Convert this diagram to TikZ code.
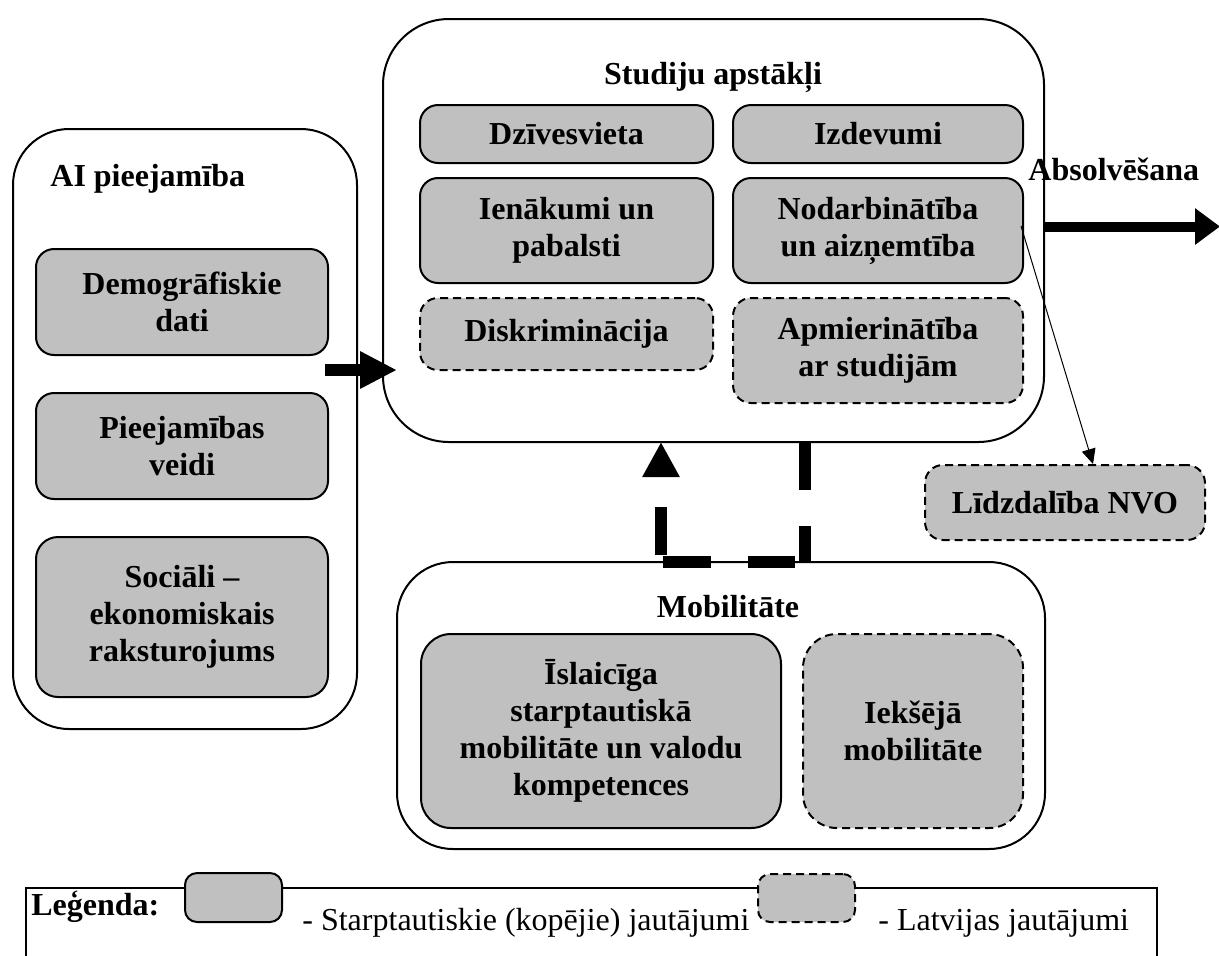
\documentclass[tikz,border=0pt]{standalone}
\usepackage{fontspec}
\setmainfont{Liberation Serif}
\usetikzlibrary{arrows.meta}
\definecolor{boxgray}{HTML}{C0C0C0}
\begin{document}
\begin{tikzpicture}[x=0.5pt,y=-0.5pt,
  every node/.style={font=\fontsize{16pt}{18.5pt}\selectfont},
  outerbox/.style={draw, line width=1pt, inner sep=0pt},
  gbox/.style={draw, fill=boxgray, line width=1pt, rounded corners=9pt, align=center, inner sep=0pt,
    font=\fontsize{16pt}{18.5pt}\selectfont\bfseries},
  dbox/.style={gbox, dash pattern=on 4pt off 2.5pt},
  title/.style={inner sep=0pt, font=\fontsize{16pt}{18.5pt}\selectfont\bfseries},
  legtext/.style={inner sep=0pt, font=\fontsize{16pt}{18.5pt}\selectfont},
  bigarrow/.style={line width=6pt, -{Triangle[length=18.5pt,width=17.5pt]}},
  outarrow/.style={line width=5pt, -{Triangle[length=12.5pt,width=17.5pt]}},
  thinarrow/.style={line width=0.5pt, -{Triangle[length=7.5pt,width=7pt]}},
  mobarrow/.style={line width=6pt, -{Triangle[length=17.5pt,width=17.5pt]},
    dash pattern=on 24pt off 18pt on 18pt off 5pt on 23.5pt off 18.5pt on 24pt off 4.5pt on 24pt off 60pt}
]
\useasboundingbox (0,0) rectangle (1219,955);

% ---------- AI pieejamiba ----------
\node[outerbox, rounded corners=28pt, minimum width=172pt, minimum height=300pt] (ai) at (185,429) {};
\node[title, anchor=base west] (aititle) at (50,186) {AI pieejamība};
\node[gbox, minimum width=146pt, minimum height=53pt] (demo) at (182,302) {Demogrāfiskie\\dati};
\node[gbox, minimum width=146pt, minimum height=53pt] (piee) at (182,446) {Pieejamības\\veidi};
\node[gbox, rounded corners=11pt, minimum width=146pt, minimum height=80pt] (soc) at (182,617) {Sociāli –\\ekonomiskais\\raksturojums};

% ---------- Studiju apstakli ----------
\node[outerbox, rounded corners=33pt, minimum width=330.5pt, minimum height=211.5pt] (stud) at (713.5,230.5) {};
\node[title, anchor=base] (studtitle) at (713,84) {Studiju apstākļi};
\node[gbox, minimum width=146.5pt, minimum height=29pt] (dz) at (566.5,134) {Dzīvesvieta};
\node[gbox, minimum width=145pt, minimum height=29pt] (iz) at (878,134) {Izdevumi};
\node[gbox, minimum width=146.5pt, minimum height=52.5pt] (ien) at (566.5,230.5) {Ienākumi un\\pabalsti};
\node[gbox, minimum width=145pt, minimum height=52.5pt] (nod) at (878,230.5) {Nodarbinātība\\un aizņemtība};
\node[dbox, minimum width=146.5pt, minimum height=36pt] (disk) at (566.5,334) {Diskriminācija};
\node[dbox, minimum width=145pt, minimum height=52.5pt] (apm) at (878,350.5) {Apmierinātība\\ar studijām};

% ---------- Lidzdaliba NVO ----------
\node[dbox, minimum width=140pt, minimum height=37.5pt] (nvo) at (1065,502.5) {Līdzdalība NVO};

% ---------- Mobilitate ----------
\node[outerbox, rounded corners=28pt, minimum width=324pt, minimum height=143.5pt] (mob) at (721,705.5) {};
\node[title, anchor=base] (mobtitle) at (728,617) {Mobilitāte};
\node[gbox, rounded corners=15pt, minimum width=180pt, minimum height=97pt] (isl) at (601,731) {Īslaicīga\\starptautiskā\\mobilitāte un valodu\\kompetences};
\node[dbox, rounded corners=17pt, minimum width=110pt, minimum height=97pt] (iek) at (913,731) {Iekšējā\\mobilitāte};

% ---------- Absolvesana ----------
\node[title, anchor=base west] (abs) at (1028,180) {Absolvēšana};

% ---------- connectors ----------
\coordinate (a1) at (325,370);
\coordinate (a2) at (397,370);
\draw[bigarrow] (a1) -- (a2);

\coordinate (b1) at (1045,226.5);
\coordinate (b2) at (1220,226.5);
\draw[outarrow] (b1) -- (b2);

\coordinate (t1) at (1021,226);
\coordinate (t2) at (1093,464);
\draw[thinarrow] (t1) -- (t2);

\coordinate (c1) at (805,442);
\coordinate (c2) at (805,562);
\coordinate (c3) at (661,562);
\coordinate (c4) at (661,442);
\draw[mobarrow] (c1) -- (c2) -- (c3) -- (c4);

% ---------- legend ----------
\node[draw, line width=1pt, inner sep=0pt, anchor=north west, minimum width=565.5pt, minimum height=60pt] (leg) at (25,887) {};
\node[title, anchor=base west] (legtitle) at (31,915) {Leģenda:};
\node[gbox, rounded corners=6pt, minimum width=48.5pt, minimum height=24.5pt] (legg) at (233.5,897.5) {};
\node[legtext, anchor=base west] (legt1) at (302,930) {- Starptautiskie (kopējie) jautājumi};
\node[dbox, rounded corners=6pt, minimum width=48.5pt, minimum height=24pt] (legd) at (806.5,898) {};
\node[legtext, anchor=base west] (legt2) at (878,930) {- Latvijas jautājumi};
\end{tikzpicture}
\end{document}
